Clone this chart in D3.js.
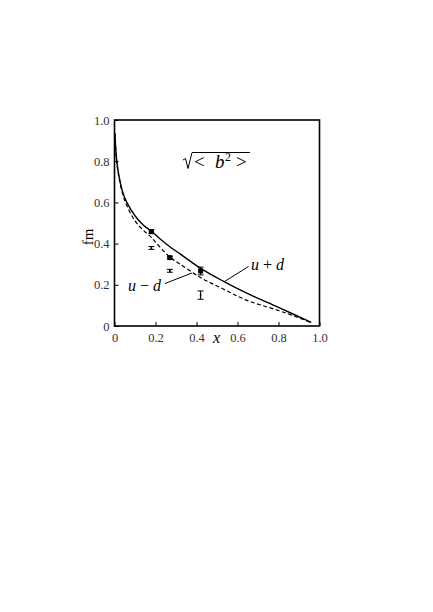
<!DOCTYPE html>
<html><head><meta charset="utf-8">
<script src="https://cdn.jsdelivr.net/npm/d3@7"></script>
<style>body{margin:0;background:#fff}svg{display:block}</style>
</head><body>
<script>
const xTicks=[0,0.2,0.4,0.6,0.8,1.0];
const yTicks=[0,0.2,0.4,0.6,0.8,1.0];
const sumX=[0.002,0.01,0.02,0.04,0.06,0.1,0.14,0.18,0.22,0.27,0.32,0.42,0.53,0.64,0.8,0.96];
const sumY=[0.935,0.81,0.74,0.65,0.60,0.535,0.49,0.46,0.425,0.385,0.35,0.28,0.218,0.162,0.09,0.018];
const diffX=[0.002,0.01,0.02,0.04,0.06,0.1,0.14,0.18,0.22,0.27,0.32,0.42,0.53,0.64,0.8,0.9,0.96];
const diffY=[0.935,0.805,0.73,0.64,0.585,0.51,0.465,0.43,0.385,0.335,0.30,0.235,0.18,0.127,0.075,0.04,0.015];
const ptX=[0.18,0.27,0.42];
const filledY=[0.458,0.332,0.267];
const filledErr=[0.008,0.005,0.019];
const openY=[0.379,0.268,0.150];
const openErr=[0.007,0.007,0.02];

const W=433,H=612;
const svg=d3.select("body").append("svg").attr("width",W).attr("height",H);
const x=d3.scaleLinear().domain([0,1]).range([114.5,319.5]);
const y=d3.scaleLinear().domain([0,1]).range([326,120]);
const font="'Liberation Serif','DejaVu Serif',serif";

const xa=svg.append("g").attr("transform","translate(0,326)")
  .call(d3.axisBottom(x).tickValues(xTicks).tickSize(-4).tickPadding(5).tickFormat(d=>d===0?"0":d3.format(".1f")(d)));
const ya=svg.append("g").attr("transform","translate(114.5,0)")
  .call(d3.axisLeft(y).tickValues(yTicks).tickSize(-4).tickPadding(5).tickFormat(d=>d===0?"0":d3.format(".1f")(d)));
[xa,ya].forEach(g=>{g.attr("font-family",font).attr("font-size",12.5);g.select(".domain").remove();
  g.selectAll(".tick line").attr("stroke","#000").attr("stroke-width",1);
  g.selectAll("text").attr("fill","#333");});
xa.selectAll("text").attr("dy","0.9em");

svg.append("rect").attr("x",x(0)).attr("y",y(1)).attr("width",x(1)-x(0)).attr("height",y(0)-y(1))
  .attr("fill","none").attr("stroke","#000").attr("stroke-width",1.6);

const line=d3.line().x(d=>x(d[0])).y(d=>y(d[1])).curve(d3.curveCatmullRom.alpha(0.5));
svg.append("path").attr("d",line(sumX.map((v,i)=>[v,sumY[i]]))).attr("fill","none").attr("stroke","#000").attr("stroke-width",1.4);
svg.append("path").attr("d",line(diffX.map((v,i)=>[v,diffY[i]]))).attr("fill","none").attr("stroke","#000").attr("stroke-width",1.2).attr("stroke-dasharray","4,2.5");

function errbar(xv,yv,e){
  const g=svg.append("g").attr("stroke","#000").attr("stroke-width",1);
  g.append("line").attr("x1",x(xv)).attr("x2",x(xv)).attr("y1",y(yv-e)).attr("y2",y(yv+e));
  [yv-e,yv+e].forEach(v=>g.append("line").attr("x1",x(xv)-3).attr("x2",x(xv)+3).attr("y1",y(v)).attr("y2",y(v)));
}
ptX.forEach((xv,i)=>{
  errbar(xv,filledY[i],filledErr[i]);
  svg.append("rect").attr("x",x(xv)-2.5).attr("y",y(filledY[i])-2.5).attr("width",5).attr("height",5).attr("fill","#000");
  errbar(xv,openY[i],openErr[i]);
  svg.append("line").attr("x1",x(xv)).attr("x2",x(xv)).attr("y1",y(openY[i])-1.5).attr("y2",y(openY[i])+1.5).attr("stroke","#000").attr("stroke-width",1.5);
});

svg.append("text").attr("x",216.5).attr("y",343).attr("text-anchor","middle").attr("font-family",font).attr("font-style","italic").attr("font-size","16px").text("x");
svg.append("text").attr("transform","translate(93,237) rotate(-90)").attr("text-anchor","middle").attr("font-family",font).attr("font-size","15px").text("fm");

svg.append("line").attr("x1",224.5).attr("y1",281.5).attr("x2",248.5).attr("y2",266.5).attr("stroke","#000").attr("stroke-width",1);
svg.append("text").attr("x",251).attr("y",270).attr("font-family",font).attr("font-size","16px")
  .html('<tspan font-style="italic">u</tspan> + <tspan font-style="italic">d</tspan>');
svg.append("line").attr("x1",165).attr("y1",283.5).attr("x2",192).attr("y2",273).attr("stroke","#000").attr("stroke-width",1);
svg.append("text").attr("x",128).attr("y",291).attr("font-family",font).attr("font-size","16px")
  .html('<tspan font-style="italic">u</tspan> − <tspan font-style="italic">d</tspan>');

const tg=svg.append("g").attr("font-family",font).attr("font-size","19px");
tg.append("path").attr("d","M183,160 L185.5,158.5 L188,168.5 L192,152.5 L250,152.5").attr("fill","none").attr("stroke","#000").attr("stroke-width",1);
tg.append("text").attr("x",194).attr("y",168).text("<");
tg.append("text").attr("x",215).attr("y",168).attr("font-style","italic").text("b");
tg.append("text").attr("x",225).attr("y",161).attr("font-size","12px").text("2");
tg.append("text").attr("x",236).attr("y",168).text(">");
</script>
</body></html>
